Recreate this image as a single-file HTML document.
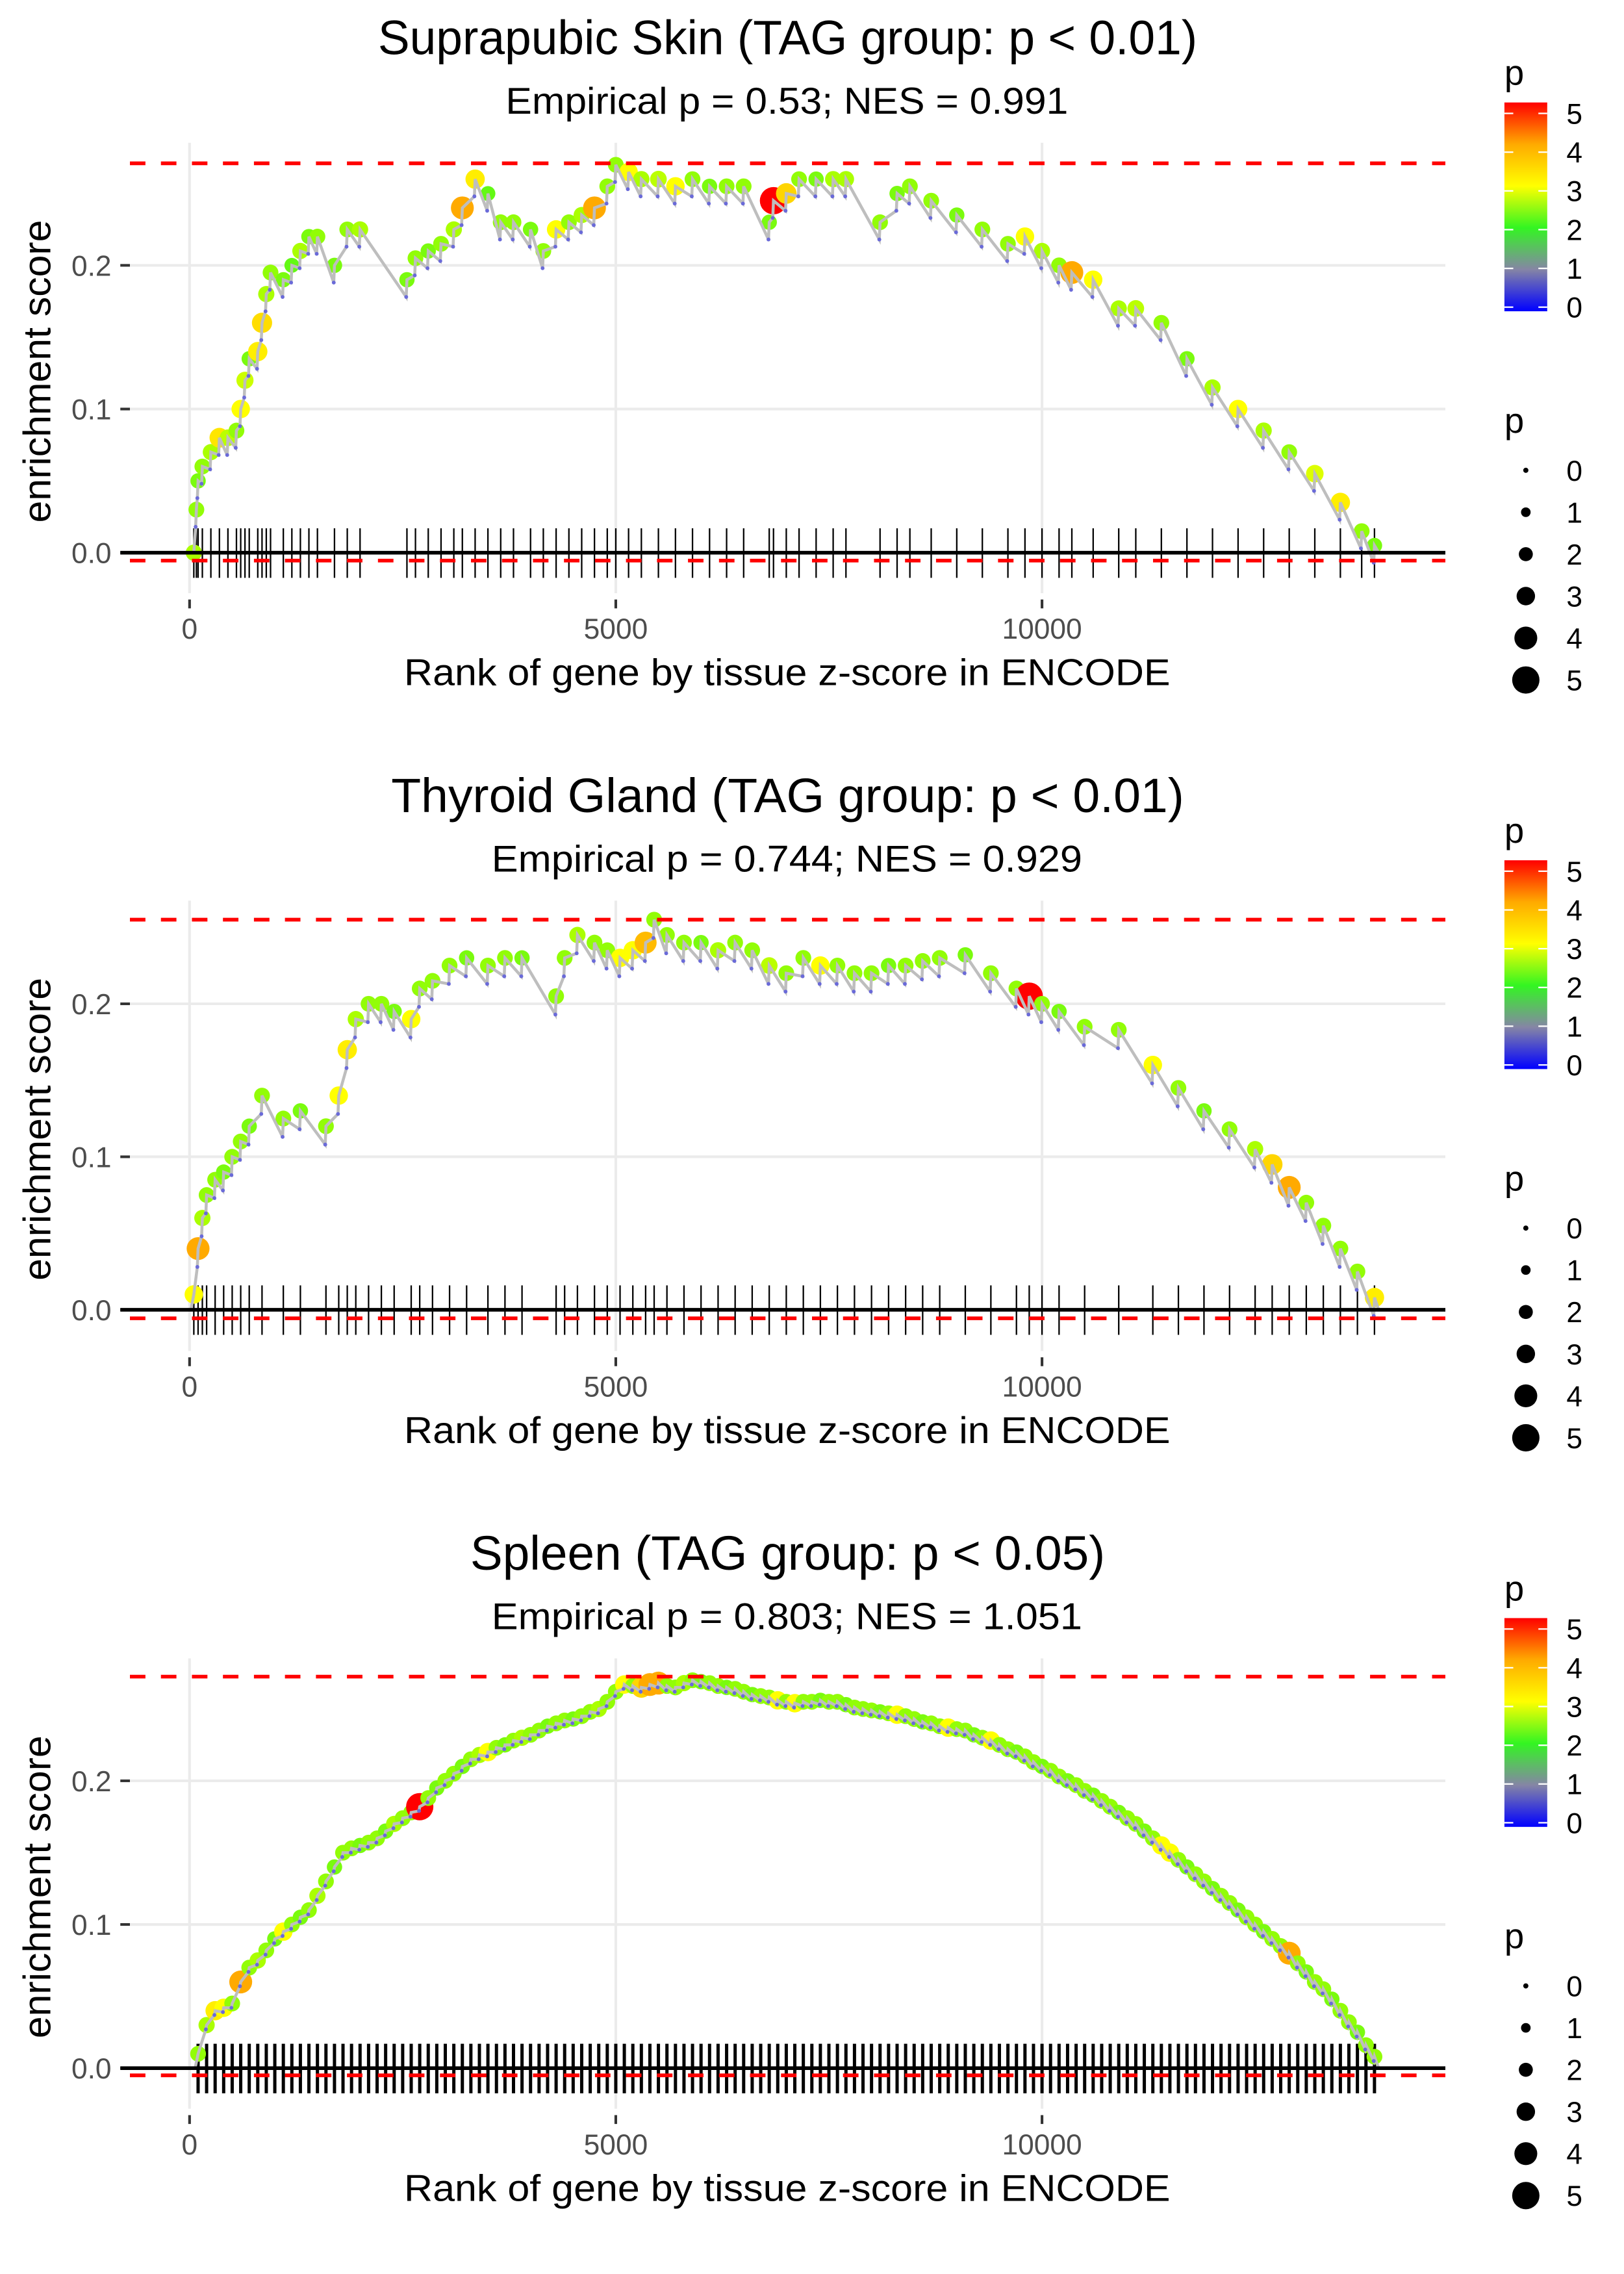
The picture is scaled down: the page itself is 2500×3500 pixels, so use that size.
<!DOCTYPE html>
<html><head><meta charset="utf-8"><style>html,body{margin:0;padding:0;background:#fff}svg{display:block}text{font-family:"Liberation Sans",sans-serif}</style></head>
<body>
<svg id="fig" xmlns="http://www.w3.org/2000/svg" width="2500" height="3500" viewBox="0 0 1100 1540" preserveAspectRatio="none">
<defs><linearGradient id="pgrad" x1="0" y1="1" x2="0" y2="0">
<stop offset="0" stop-color="#0000ff"/><stop offset="0.2" stop-color="#8585a5"/><stop offset="0.4" stop-color="#33f522"/><stop offset="0.6" stop-color="#ffff00"/><stop offset="0.8" stop-color="#ffaa00"/><stop offset="1" stop-color="#ff0000"/></linearGradient></defs>
</svg>
<script>
const titles=["Suprapubic Skin (TAG group: p < 0.01)","Thyroid Gland (TAG group: p < 0.01)","Spleen (TAG group: p < 0.05)"];
const subtitles=["Empirical p = 0.53; NES = 0.991","Empirical p = 0.744; NES = 0.929","Empirical p = 0.803; NES = 1.051"];
const xTicks=[0,5000,10000];
const yTicks=[0.0,0.1,0.2];
const yTickLabels=["0.0","0.1","0.2"];
const maxES=[0.271,0.255,0.2725];
const minES=[-0.0055,-0.0056,-0.005];
const ranks1=[50,80,100,150,250,350,450,550,600,650,700,800,850,900,950,1100,1200,1300,1400,1500,1700,1850,2000,2550,2650,2800,2950,3100,3200,3350,3500,3650,3800,4000,4150,4300,4450,4600,4750,4900,5000,5150,5300,5500,5700,5900,6100,6300,6500,6800,6850,7000,7150,7350,7550,7700,8100,8300,8450,8700,9000,9300,9600,9800,10000,10200,10350,10600,10900,11100,11400,11700,12000,12300,12600,12900,13200,13500,13750,13900];
const es1=[0.0,0.03,0.05,0.06,0.07,0.08,0.08,0.085,0.1,0.12,0.135,0.14,0.16,0.18,0.195,0.19,0.2,0.21,0.22,0.22,0.2,0.225,0.225,0.19,0.205,0.21,0.215,0.225,0.24,0.26,0.25,0.23,0.23,0.225,0.21,0.225,0.23,0.235,0.24,0.255,0.27,0.265,0.26,0.26,0.255,0.26,0.255,0.255,0.255,0.23,0.245,0.25,0.26,0.26,0.26,0.26,0.23,0.25,0.255,0.245,0.235,0.225,0.215,0.22,0.21,0.2,0.195,0.19,0.17,0.17,0.16,0.135,0.115,0.1,0.085,0.07,0.055,0.035,0.015,0.005];
const p1=[2.5,2.4,2.3,2.4,2.5,3.3,2.6,2.4,3,2.7,2.3,3.2,3.4,2.5,2.4,2.3,2.2,2.5,2.3,2.4,2.3,2.4,2.5,2.3,2.4,2.3,2.4,2.5,4,3.2,2.2,2.4,2.4,2.3,2.4,3,2.4,2.5,4,2.4,2.4,3,2.5,2.6,3,2.4,2.3,2.4,2.4,2.3,5,3.5,2.4,2.3,2.5,2.5,2.4,2.3,2.4,2.4,2.3,2.4,2.4,3,2.5,2.4,4,3,2.5,2.6,2.4,2.3,2.5,3,2.5,2.4,2.8,3.2,2.4,2.3];
const ranks2=[50,100,150,200,300,400,500,600,700,850,1100,1300,1600,1750,1850,1950,2100,2250,2400,2600,2700,2850,3050,3250,3500,3700,3900,4300,4400,4550,4750,4900,5050,5200,5350,5450,5600,5800,6000,6200,6400,6600,6800,7000,7200,7400,7600,7800,8000,8200,8400,8600,8800,9100,9400,9700,9850,10000,10200,10500,10900,11300,11600,11900,12200,12500,12700,12900,13100,13300,13500,13700,13900];
const es2=[0.01,0.04,0.06,0.075,0.085,0.09,0.1,0.11,0.12,0.14,0.125,0.13,0.12,0.14,0.17,0.19,0.2,0.2,0.195,0.19,0.21,0.215,0.225,0.23,0.225,0.23,0.23,0.205,0.23,0.245,0.24,0.235,0.23,0.235,0.24,0.255,0.245,0.24,0.24,0.235,0.24,0.235,0.225,0.22,0.23,0.225,0.225,0.22,0.22,0.225,0.225,0.228,0.23,0.232,0.22,0.21,0.205,0.2,0.195,0.185,0.183,0.16,0.145,0.13,0.118,0.105,0.095,0.08,0.07,0.055,0.04,0.025,0.008];
const p2=[3,4,2.5,2.4,2.4,2.3,2.4,2.4,2.3,2.4,2.4,2.3,2.4,3,3.2,2.5,2.4,2.4,2.3,3,2.4,2.4,2.4,2.3,2.4,2.4,2.3,2.4,2.4,2.5,2.4,2.4,3,3,3.8,2.4,2.4,2.4,2.3,2.5,2.4,2.4,2.6,2.4,2.4,3,2.4,2.4,2.4,2.3,2.4,2.4,2.4,2.3,2.4,2.4,5,2.4,2.3,2.4,2.4,3,2.4,2.3,2.4,2.5,3.5,4,2.4,2.4,2.4,2.4,3.2];
const ranks3=[100,200,300,400,500,600,700,800,900,1000,1100,1200,1300,1400,1500,1600,1700,1800,1900,2000,2100,2200,2300,2400,2500,2600,2700,2800,2900,3000,3100,3200,3300,3400,3500,3600,3700,3800,3900,4000,4100,4200,4300,4400,4500,4600,4700,4800,4900,5000,5100,5200,5300,5400,5500,5600,5700,5800,5900,6000,6100,6200,6300,6400,6500,6600,6700,6800,6900,7000,7100,7200,7300,7400,7500,7600,7700,7800,7900,8000,8100,8200,8300,8400,8500,8600,8700,8800,8900,9000,9100,9200,9300,9400,9500,9600,9700,9800,9900,10000,10100,10200,10300,10400,10500,10600,10700,10800,10900,11000,11100,11200,11300,11400,11500,11600,11700,11800,11900,12000,12100,12200,12300,12400,12500,12600,12700,12800,12900,13000,13100,13200,13300,13400,13500,13600,13700,13800,13900];
const es3=[0.01,0.03,0.04,0.042,0.045,0.06,0.07,0.075,0.082,0.09,0.095,0.1,0.105,0.11,0.12,0.13,0.14,0.15,0.153,0.155,0.157,0.16,0.165,0.17,0.174,0.178,0.182,0.188,0.195,0.2,0.205,0.21,0.215,0.218,0.22,0.223,0.225,0.228,0.23,0.232,0.235,0.238,0.24,0.242,0.243,0.245,0.248,0.25,0.255,0.262,0.267,0.266,0.265,0.267,0.268,0.266,0.265,0.268,0.27,0.269,0.268,0.266,0.265,0.264,0.262,0.26,0.259,0.258,0.256,0.255,0.254,0.255,0.255,0.256,0.255,0.255,0.253,0.251,0.25,0.249,0.248,0.247,0.246,0.245,0.243,0.241,0.24,0.238,0.237,0.236,0.235,0.232,0.23,0.228,0.225,0.222,0.22,0.217,0.213,0.21,0.207,0.203,0.2,0.197,0.193,0.19,0.186,0.182,0.178,0.174,0.17,0.165,0.16,0.155,0.15,0.145,0.14,0.135,0.13,0.125,0.12,0.115,0.11,0.105,0.1,0.095,0.09,0.085,0.08,0.073,0.067,0.06,0.055,0.048,0.04,0.032,0.025,0.016,0.008];
const p3=[2.4,2.5,3.2,3,2.4,4,2.4,2.5,2.4,2.3,3,2.4,2.3,2.4,2.5,2.4,2.3,2.4,2.4,2.3,2.4,2.4,2.3,2.5,2.4,2.4,5,2.4,2.3,2.4,2.4,2.3,2.4,2.5,3,2.4,2.3,2.4,2.5,2.4,2.4,2.3,2.4,2.4,2.3,2.4,2.4,2.5,2.4,2.4,3,2.4,3.5,4,4,2.4,2.4,2.5,2.4,2.3,2.4,2.4,2.3,2.4,2.4,2.3,2.4,2.4,3,2.4,3,2.4,2.4,2.3,2.4,2.4,2.3,2.4,2.4,2.4,2.3,2.4,3,2.4,2.4,2.3,2.4,2.4,3,2.4,2.4,2.3,2.4,3,2.4,2.4,2.3,2.4,2.4,2.3,2.4,2.4,2.3,2.4,2.4,2.3,2.4,2.4,2.3,2.4,2.4,2.3,2.4,3,3,2.4,2.3,2.4,2.4,2.3,2.4,2.4,2.3,2.4,2.4,2.3,2.4,2.4,4,2.4,2.3,2.4,2.4,2.3,2.4,2.4,2.3,2.4,2.4];
const allRanks=[ranks1,ranks2,ranks3];
const allES=[es1,es2,es3];
const allP=[p1,p2,p3];
const legendValues=[0,1,2,3,4,5];

const NS="http://www.w3.org/2000/svg";
const svg=document.getElementById('fig');
function mk(tag,attrs,parent,text){const e=document.createElementNS(NS,tag);for(const k in attrs)e.setAttribute(k,attrs[k]);if(text!==undefined)e.textContent=text;(parent||svg).appendChild(e);return e;}
function pColor(p){const stops=[[0,0,0,255],[1,133,133,165],[2,51,245,34],[2.5,170,255,0],[3,255,255,0],[4,255,170,0],[5,255,0,0]];
 for(let i=1;i<stops.length;i++){if(p<=stops[i][0]){const a=stops[i-1],b=stops[i];const t=(p-a[0])/(b[0]-a[0]);return `rgb(${Math.round(a[1]+t*(b[1]-a[1]))},${Math.round(a[2]+t*(b[2]-a[2]))},${Math.round(a[3]+t*(b[3]-a[3]))})`;}}return 'rgb(255,0,0)';}
function pRadius(p){return 1.75+1.5*p;}
const offs=[0,513.2,1026.4];
const y0s=[374.3,887.0,1400.6];
const perUnit=[973,1036,973];
const jumps=[0.012,0.012,0.003];
const rugW=[1,1,2.2];
const X0=88,X1=979;
function xs(r){return 128.4+r*0.05774;}

for(let k=0;k<3;k++){
 const o=offs[k];const ys=v=>y0s[k]-v*perUnit[k];
 const g=mk('g',{});
 
 
 const tt=mk('text',{x:533.5,y:36.7+o,'font-size':32.5,'text-anchor':'middle',fill:'#000',textLength:[555,537,430][k],lengthAdjust:'spacingAndGlyphs'},g,titles[k]);
 
 
 const st=mk('text',{x:533,y:77+o,'font-size':25.5,'text-anchor':'middle',fill:'#000',textLength:[381,400,400][k],lengthAdjust:'spacingAndGlyphs'},g,subtitles[k]);
 
 
 const top=96.7+o,bot=401.7+o;
 yTicks.forEach((v,i)=>{
  if(v>0){const gl=mk('line',{x1:X0,x2:X1,y1:ys(v),y2:ys(v),stroke:'#ebebeb','stroke-width':1.8},g);
  
  }
  mk('line',{x1:81.5,x2:88,y1:ys(v),y2:ys(v),stroke:'#333','stroke-width':1.8},g);
  const tl=mk('text',{x:75.5,y:ys(v)+7,'font-size':19.5,'text-anchor':'end',fill:'#4d4d4d'},g,yTickLabels[i]);
  
  
 });
 xTicks.forEach(v=>{
  const gl=mk('line',{x1:xs(v),x2:xs(v),y1:top,y2:bot,stroke:'#ebebeb','stroke-width':1.8},g);
  
  
  mk('line',{x1:xs(v),x2:xs(v),y1:406+o,y2:412+o,stroke:'#333','stroke-width':1.8},g);
  const tl=mk('text',{x:xs(v),y:432.6+o,'font-size':19.5,'text-anchor':'middle',fill:'#4d4d4d'},g,String(v));
  
  
 });
 const xt=mk('text',{x:533.2,y:464+o,'font-size':25.5,'text-anchor':'middle',fill:'#000',textLength:519,lengthAdjust:'spacingAndGlyphs'},g,'Rank of gene by tissue z-score in ENCODE');
 
 
 const yty=251.5+o;
 const yt=mk('text',{x:0,y:0,'font-size':26,'text-anchor':'middle',fill:'#000',transform:`translate(34,${yty}) rotate(-90)`,textLength:205,lengthAdjust:'spacingAndGlyphs'},g,'enrichment score');
 
 
 const rk=allRanks[k],es=allES[k],pv=allP[k];
 const rug=mk('g',{},g);
 
 
 rk.forEach(r=>{const l=mk('line',{x1:xs(r),x2:xs(r),y1:ys(0)-16.5,y2:ys(0)+17,stroke:'#000','stroke-width':rugW[k]},rug);
  
  });
 const pts=mk('g',{},g);
 
 
 rk.forEach((r,i)=>{const c=mk('circle',{cx:xs(r),cy:ys(es[i]),r:pRadius(pv[i]),fill:pColor(pv[i])},pts);
  
  });
 let d=`M${xs(rk[0])-2},${ys(0)} L${xs(rk[0])},${ys(es[0])}`;const dips=[];
 for(let i=1;i<rk.length;i++){const xb=xs(rk[i])-0.5,yb=ys(es[i]-jumps[k]);d+=` L${xb},${yb} L${xs(rk[i])},${ys(es[i])}`;dips.push([xb,yb]);}
 d+=` L${xs(13950)},${ys(0)}`;
 const ln=mk('path',{d:d,fill:'none',stroke:'#bebebe','stroke-width':2},g);
 
 
 dips.forEach(q=>{const c=mk('circle',{cx:q[0],cy:q[1],r:1.3,fill:'#6a6ad8'},g);
  
  });
 const zl=mk('line',{x1:81.5,x2:X1,y1:ys(0),y2:ys(0),stroke:'#000','stroke-width':2.5},g);
 
 
 const rmx=mk('line',{x1:X0,x2:X1,y1:ys(maxES[k]),y2:ys(maxES[k]),stroke:'#ff0000','stroke-width':2.5,'stroke-dasharray':'10.5,10.5'},g);
 
 
 const rmn=mk('line',{x1:X0,x2:X1,y1:ys(minES[k]),y2:ys(minES[k]),stroke:'#ff0000','stroke-width':2.5,'stroke-dasharray':'10.5,10.5'},g);
 
 
 const lg=mk('g',{},g);
 
 
 mk('text',{x:1019,y:57.5+o,'font-size':24,fill:'#000'},lg,'p');
 mk('rect',{x:1019,y:69.4+o,width:29,height:141.4,fill:'url(#pgrad)'},lg);
 legendValues.forEach(v=>{const yy=208+o-v*26.24;
  mk('line',{x1:1019,x2:1025,y1:yy,y2:yy,stroke:'#fff','stroke-width':1},lg);
  mk('line',{x1:1042,x2:1048,y1:yy,y2:yy,stroke:'#fff','stroke-width':1},lg);
  const t=mk('text',{x:1061,y:yy+7,'font-size':19.5,fill:'#000'},lg,String(v));
  
  });
 const sg=mk('g',{},g);
 
 
 mk('text',{x:1019,y:293+o,'font-size':24,fill:'#000'},sg,'p');
 legendValues.forEach(v=>{const yy=318.5+o+v*28.4;
  const c=mk('circle',{cx:1033.5,cy:yy,r:pRadius(v),fill:'#000'},sg);
  
  
  const t=mk('text',{x:1061,y:yy+7,'font-size':19.5,fill:'#000'},sg,String(v));
  
  });
}
</script>
</body></html>
